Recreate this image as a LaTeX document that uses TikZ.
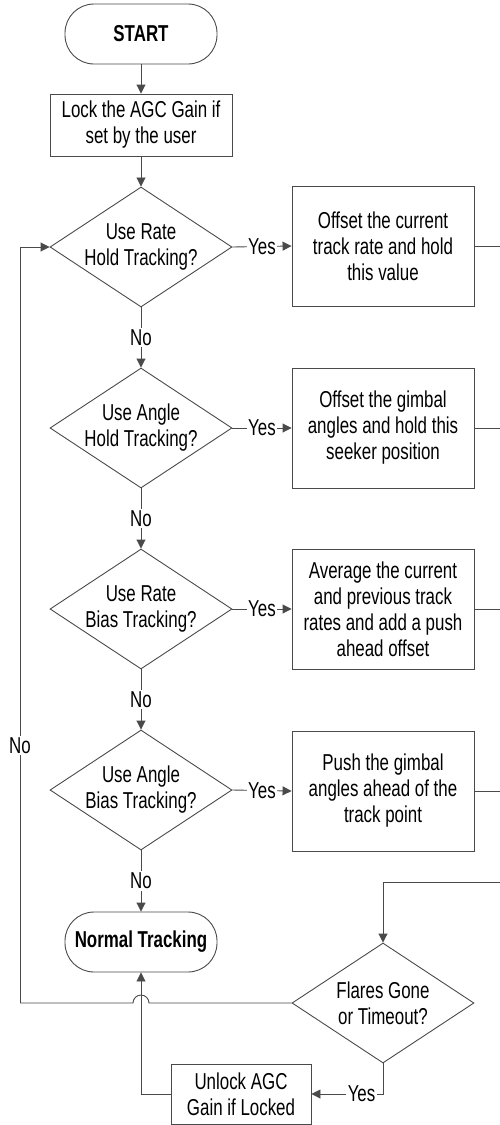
\documentclass[tikz,border=0pt]{standalone}
\usepackage{fontspec}
\setmainfont[FakeStretch=0.735]{Liberation Sans}
\usepackage{xcolor}
\usepackage{tikz}
\usetikzlibrary{calc,shapes.geometric,arrows.meta}
\definecolor{ink}{HTML}{000000}
\definecolor{wire}{HTML}{4A4A4A}
\tikzset{
  every node/.style={font=\fontsize{23}{26}\selectfont, text=ink, align=center},
  term/.style={draw=wire, line width=0.9pt, rounded corners=29pt, minimum width=152pt, minimum height=60pt, font=\fontsize{23}{26}\selectfont\bfseries},
  proc/.style={draw=wire, line width=0.9pt, minimum width=182pt, minimum height=120pt, inner sep=0pt},
  ask/.style={draw=wire, line width=0.9pt, diamond, aspect=1.52, minimum width=182pt, minimum height=120pt, inner sep=-4pt},
  wireln/.style={draw=wire, line width=0.9pt},
  arr/.style={wireln, -{Triangle[length=9pt,width=9pt]}},
  lbl/.style={fill=white, inner sep=1.5pt}
}
\begin{document}
\begin{tikzpicture}[x=1pt,y=-1pt]
\useasboundingbox (0,0) rectangle (500,1125);
% left column
\node[term] (start) at (141,34) {START};
\node[proc, minimum height=62pt] (lock) at (141,125) {Lock the AGC Gain if\\set by the user};
\node[ask] (d1) at (141,247) {Use Rate\\Hold Tracking?};
\node[ask] (d2) at (141,428) {Use Angle\\Hold Tracking?};
\node[ask] (d3) at (141,609) {Use Rate\\Bias Tracking?};
\node[ask] (d4) at (141,790) {Use Angle\\Bias Tracking?};
\node[term] (normal) at (141,942) {Normal Tracking};
% right column
\node[proc] (b1) at (383,246) {Offset the current\\track rate and hold\\this value};
\node[proc] (b2) at (383,428) {Offset the gimbal\\angles and hold this\\seeker position};
\node[proc] (b3) at (383,609) {Average the current\\and previous track\\rates and add a push\\ahead offset};
\node[proc] (b4) at (383,791) {Push the gimbal\\angles ahead of the\\track point};
\node[ask] (flares) at (383,1003) {Flares Gone\\or Timeout?};
\node[proc, minimum width=140pt, minimum height=60pt] (unlock) at (241,1094) {Unlock AGC\\Gain if Locked};
\coordinate (edge) at (500,0);
\coordinate (loopin) at (500,882);
\coordinate (noleft) at (20,1003);

\draw[arr] (start) -- (lock);
\draw[arr] (lock) -- (d1);
\draw[arr] (d1) -- node[lbl]{No} (d2);
\draw[arr] (d2) -- node[lbl]{No} (d3);
\draw[arr] (d3) -- node[lbl]{No} (d4);
\draw[arr] (d4) -- node[lbl]{No} (normal);
\foreach \d/\b in {d1/b1,d2/b2,d3/b3,d4/b4}{
  \draw[arr] (\d.east) -- node[lbl]{Yes} (\b.west);
  \draw[wireln] (\b.east) -- (\b.east -| edge);
}
\draw[arr] (loopin) -| (flares.north);
\draw[arr] (flares.south) |- node[lbl,pos=0.65]{Yes} (unlock.east);
\draw[arr] (unlock.west) -| (normal.south);
% back to the first test, hopping over the line above
\draw[wireln] (flares.west) -- ($(flares.west -| normal.south)+(8,0)$) arc (0:180:8pt) -- (noleft);
\draw[arr] (noleft) -- node[lbl,pos=0.34]{No} (noleft |- d1.west) -- (d1.west);
\end{tikzpicture}
\end{document}
